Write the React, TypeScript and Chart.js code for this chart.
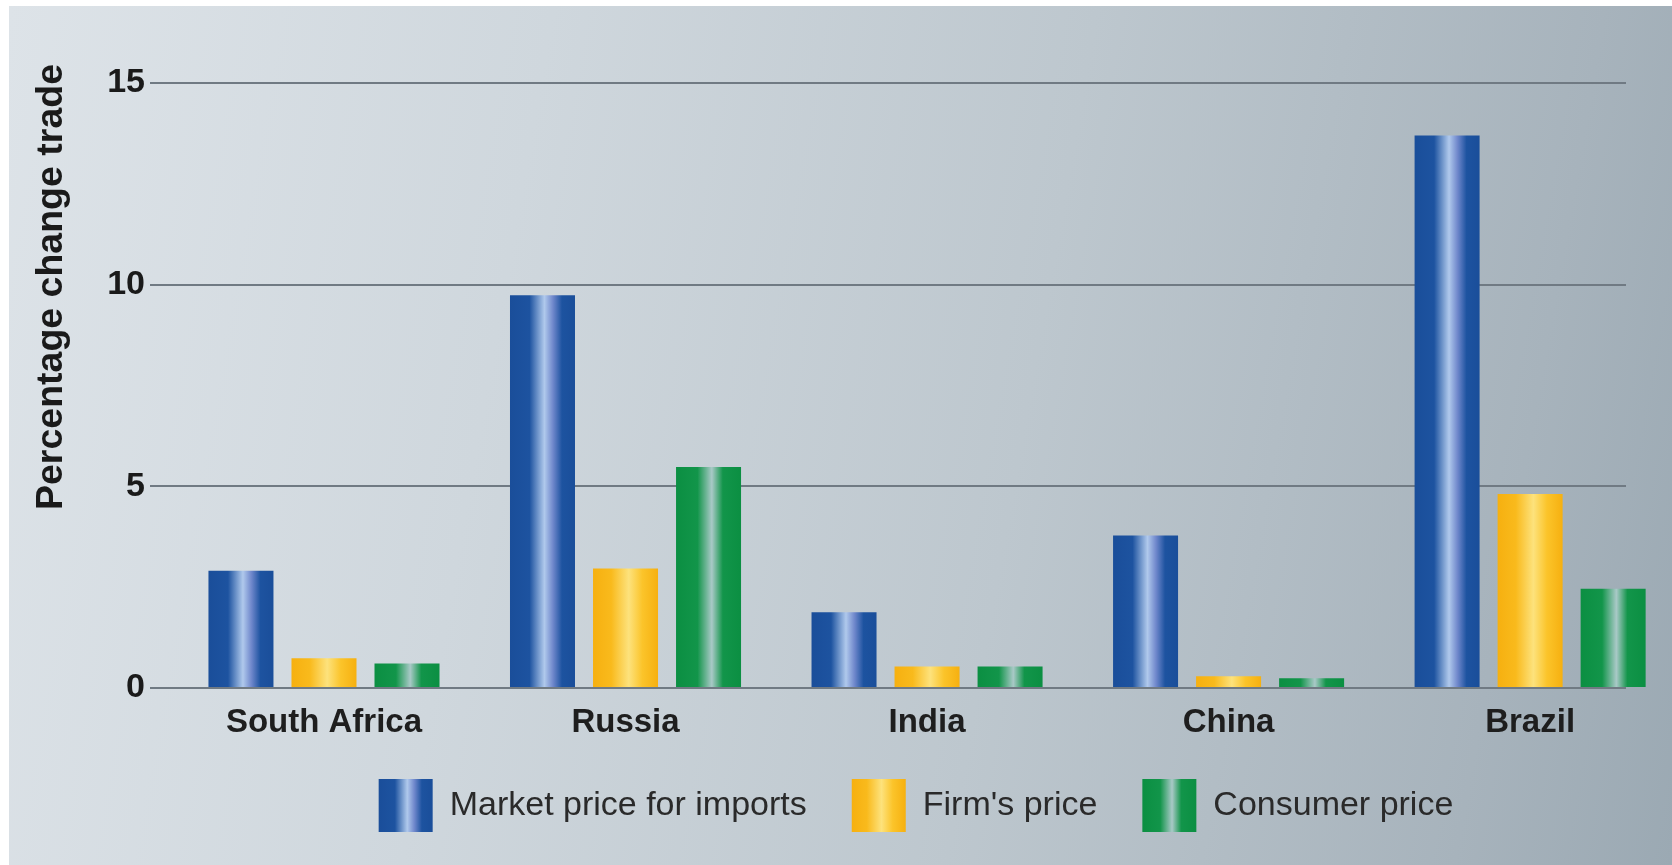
import React, { useEffect, useRef } from 'react';
import { Chart, registerables } from 'chart.js';

Chart.register(...registerables);

const categories = ['South Africa', 'Russia', 'India', 'China', 'Brazil'];
const seriesNames = ['Market price for imports', "Firm's price", 'Consumer price'];
const marketPrice = [2.91, 9.74, 1.88, 3.78, 13.7];
const firmPrice = [0.74, 2.96, 0.53, 0.29, 4.81];
const consumerPrice = [0.61, 5.48, 0.53, 0.24, 2.46];
const yTitle = 'Percentage change trade';
const yMin = 0;
const yMax = 15;
const yStep = 5;

const baseColors = ['#1a4e9a', '#f7b212', '#0b8f42'];
const gradientStops: [number, string][][] = [
  [[0, '#1a4e9a'], [0.3, '#1d53a0'], [0.53, '#b0c9ec'], [0.66, '#7088cc'], [0.8, '#1d53a0'], [1, '#1a4e9a']],
  [[0, '#f6b010'], [0.28, '#f9ba1c'], [0.55, '#fde27c'], [0.76, '#fbc42a'], [1, '#f6b010']],
  [[0, '#0b8f42'], [0.33, '#12954a'], [0.55, '#a9c9c7'], [0.72, '#12954a'], [1, '#0b8f42']],
];

const FONT = '"Liberation Sans", Arial, Helvetica, sans-serif';

function makeGradient(ctx: CanvasRenderingContext2D, x0: number, x1: number, i: number) {
  const g = ctx.createLinearGradient(x0, 0, x1, 0);
  gradientStops[i].forEach(([o, c]) => g.addColorStop(o, c));
  return g;
}

const stylePlugin = {
  id: 'stylePlugin',
  afterLayout(chart: any) {
    const lg = chart.legend;
    if (lg) {
      const dx = 916 - (lg.left + lg.right) / 2;
      lg.left += dx;
      lg.right += dx;
    }
    // lift the y-axis title slightly above the plot top, as in the original
    const ys = chart.scales.y;
    if (ys) ys.top -= 19;
  },
  beforeDraw(chart: any) {
    const ctx = chart.ctx;
    const lg = chart.legend;
    if (lg && lg.legendItems && lg.legendHitBoxes) {
      const bw = lg.options.labels.boxWidth;
      lg.legendItems.forEach((item: any, i: number) => {
        const hb = lg.legendHitBoxes[i];
        if (!hb) return;
        item.fillStyle = makeGradient(ctx, hb.left, hb.left + bw, item.datasetIndex ?? i);
      });
    }
  },
  beforeDatasetsDraw(chart: any) {
    const ctx = chart.ctx;
    chart.data.datasets.forEach((_ds: any, i: number) => {
      const meta = chart.getDatasetMeta(i);
      meta.data.forEach((el: any) => {
        const x = el.x;
        const w = el.width;
        el.options = Object.assign({}, el.options, {
          backgroundColor: makeGradient(ctx, x - w / 2, x + w / 2, i),
        });
      });
    });
  },
};

export default function App() {
  const ref = useRef<HTMLCanvasElement | null>(null);

  useEffect(() => {
    if (!ref.current) return;
    const seriesValues = [marketPrice, firmPrice, consumerPrice];
    const chart = new Chart(ref.current, {
      type: 'bar',
      data: {
        datasets: seriesValues.map((vals, i) => ({
          label: seriesNames[i],
          data: vals.map((v, k) => ({ x: k, y: v })),
          backgroundColor: baseColors[i],
          borderWidth: 0,
          clip: false as any,
          categoryPercentage: 0.826,
          barPercentage: 0.783,
        })),
      },
      options: {
        animation: false,
        responsive: false,
        layout: { padding: { top: 83, right: 46, bottom: 23, left: 0 } },
        plugins: {
          tooltip: { enabled: false },
          legend: {
            position: 'bottom',
            labels: {
              boxWidth: 54,
              boxHeight: 53,
              padding: 45,
              color: '#2a2a2a',
              font: { family: FONT, size: 34, weight: 'normal' },
            },
          },
        },
        scales: {
          x: {
            type: 'linear',
            offset: false,
            min: -0.577,
            max: 4.318,
            afterBuildTicks: (s: any) => {
              s.ticks = categories.map((_c, i) => ({ value: i }));
            },
            afterFit: (s: any) => {
              s.height = 46;
            },
            ticks: {
              autoSkip: false,
              maxRotation: 0,
              padding: 15,
              color: '#1e1e1e',
              font: { family: FONT, size: 33, weight: 'bold' },
              callback: (v: any) => categories[v as number] ?? '',
            },
            grid: { display: false, drawTicks: false },
            border: { display: false },
          },
          y: {
            min: yMin,
            max: yMax,
            afterFit: (s: any) => {
              s.width = 150;
            },
            ticks: {
              stepSize: yStep,
              padding: 5,
              color: '#1a1a1a',
              font: { family: FONT, size: 34, weight: 'bold' },
            },
            grid: { color: '#707a83', lineWidth: 2, drawTicks: false },
            border: { display: false },
            title: {
              display: true,
              text: yTitle,
              align: 'end',
              color: '#1a1a1a',
              font: { family: FONT, size: 37.5, weight: 'bold' },
              padding: { top: 29, bottom: 0 },
            },
          },
        },
      } as any,
      plugins: [stylePlugin],
    });
    return () => chart.destroy();
  }, []);

  return (
    <div
      style={{
        position: 'fixed',
        left: 0,
        top: 0,
        width: 1672,
        height: 865,
        background: '#ffffff',
        overflow: 'hidden',
      }}
    >
      <div
        style={{
          position: 'absolute',
          left: 9,
          top: 6,
          right: 0,
          bottom: 0,
          background:
            'linear-gradient(100deg, #dde3e8 0%, #cfd7dd 30%, #bdc7ce 60%, #a7b3bc 88%, #9ba9b3 100%)',
        }}
      />
      <canvas
        ref={ref}
        width={1672}
        height={865}
        style={{ position: 'absolute', left: 0, top: 0, width: 1672, height: 865 }}
      />
    </div>
  );
}
